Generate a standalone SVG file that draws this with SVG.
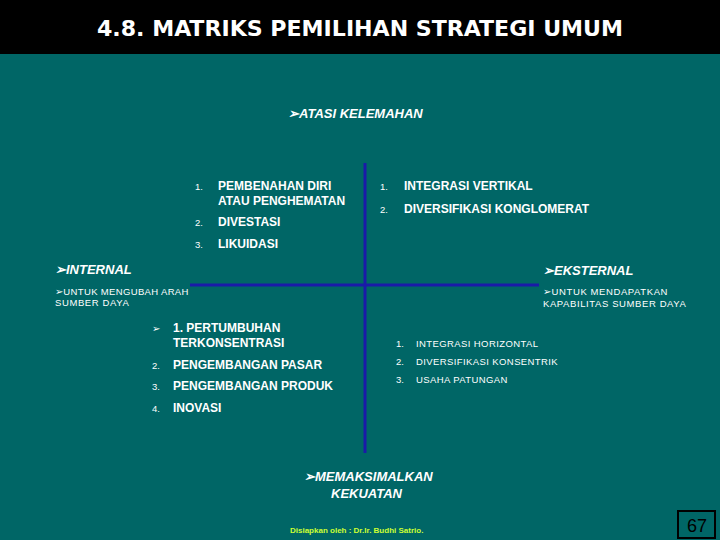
<svg xmlns="http://www.w3.org/2000/svg" width="720" height="540" viewBox="0 0 720 540">
<style>
.t{font-family:"Liberation Sans",Arial,sans-serif;fill:#ffffff}
.b{font-weight:bold;font-size:12px}
.n{font-size:9.5px}
.h{font-style:italic;font-size:13px;font-weight:bold}
.s{font-size:9.5px;letter-spacing:0.6px}
.ax{stroke:#1a1aa8;stroke-width:3}
</style>
<rect x="0" y="0" width="720" height="540" fill="#006666"/>
<rect x="0" y="0" width="720" height="54" fill="#000000"/>
<text x="360" y="36" text-anchor="middle" font-family="'DejaVu Sans Condensed','DejaVu Sans',sans-serif" font-weight="bold" font-size="22" fill="#ffffff" textLength="526" lengthAdjust="spacingAndGlyphs">4.8. MATRIKS PEMILIHAN STRATEGI UMUM</text>
<g id="connectors">
<line class="ax" x1="365" y1="163" x2="365" y2="453"/>
<line class="ax" x1="190" y1="285" x2="539" y2="285"/>
</g>
<g id="atasi-kelemahan"><text class="t h" x="288" y="118" font-weight="normal">➢ATASI  KELEMAHAN</text></g>
<g id="top-left">
<text class="t n" x="195" y="190">1.</text>
<text class="t b" x="218" y="190">PEMBENAHAN DIRI</text>
<text class="t b" x="218" y="205">ATAU PENGHEMATAN</text>
<text class="t n" x="195" y="226">2.</text>
<text class="t b" x="218" y="226">DIVESTASI</text>
<text class="t n" x="195" y="248">3.</text>
<text class="t b" x="218" y="248">LIKUIDASI</text>
</g>
<g id="top-right">
<text class="t n" x="380" y="190">1.</text>
<text class="t b" x="404" y="190">INTEGRASI VERTIKAL</text>
<text class="t n" x="380" y="213">2.</text>
<text class="t b" x="404" y="213">DIVERSIFIKASI KONGLOMERAT</text>
</g>
<g id="internal">
<text class="t h" x="55" y="274">➢INTERNAL</text>
<text class="t s" x="55" y="295" style="letter-spacing:0.35px">➢UNTUK MENGUBAH ARAH</text>
<text class="t s" x="55" y="306">SUMBER DAYA</text>
</g>
<g id="eksternal">
<text class="t h" x="543" y="275">➢EKSTERNAL</text>
<text class="t s" x="543" y="295">➢UNTUK MENDAPATKAN</text>
<text class="t s" x="543" y="307">KAPABILITAS SUMBER DAYA</text>
</g>
<g id="bottom-left">
<text class="t n" x="152" y="332">➢</text>
<text class="t b" x="173" y="332">1.  PERTUMBUHAN</text>
<text class="t b" x="173" y="347">TERKONSENTRASI</text>
<text class="t n" x="152" y="369">2.</text>
<text class="t b" x="173" y="369">PENGEMBANGAN PASAR</text>
<text class="t n" x="152" y="390">3.</text>
<text class="t b" x="173" y="390">PENGEMBANGAN PRODUK</text>
<text class="t n" x="152" y="412">4.</text>
<text class="t b" x="173" y="412">INOVASI</text>
</g>
<g id="bottom-right">
<text class="t n" x="396" y="347">1.</text>
<text class="t s" x="416" y="347" style="letter-spacing:0.4px">INTEGRASI HORIZONTAL</text>
<text class="t n" x="396" y="365">2.</text>
<text class="t s" x="416" y="365" style="letter-spacing:0.4px">DIVERSIFIKASI KONSENTRIK</text>
<text class="t n" x="396" y="383">3.</text>
<text class="t s" x="416" y="383" style="letter-spacing:0.4px">USAHA PATUNGAN</text>
</g>
<g id="memaksimalkan">
<text class="t h" x="304" y="481">➢MEMAKSIMALKAN</text>
<text class="t h" x="331" y="498">KEKUATAN</text>
</g>
<g id="footer">
<text x="290" y="533" font-family="'Liberation Sans',Arial,sans-serif" font-size="8" font-weight="bold" fill="#ccff33">Disiapkan oleh : Dr.Ir. Budhi Satrio.</text>
</g>
<g id="page-number">
<rect x="678" y="511" width="37" height="27" fill="#006666" stroke="#000000" stroke-width="2"/>
<text x="697" y="532" text-anchor="middle" font-family="'Liberation Sans',Arial,sans-serif" font-size="18" fill="#000000">67</text>
</g>
</svg>
